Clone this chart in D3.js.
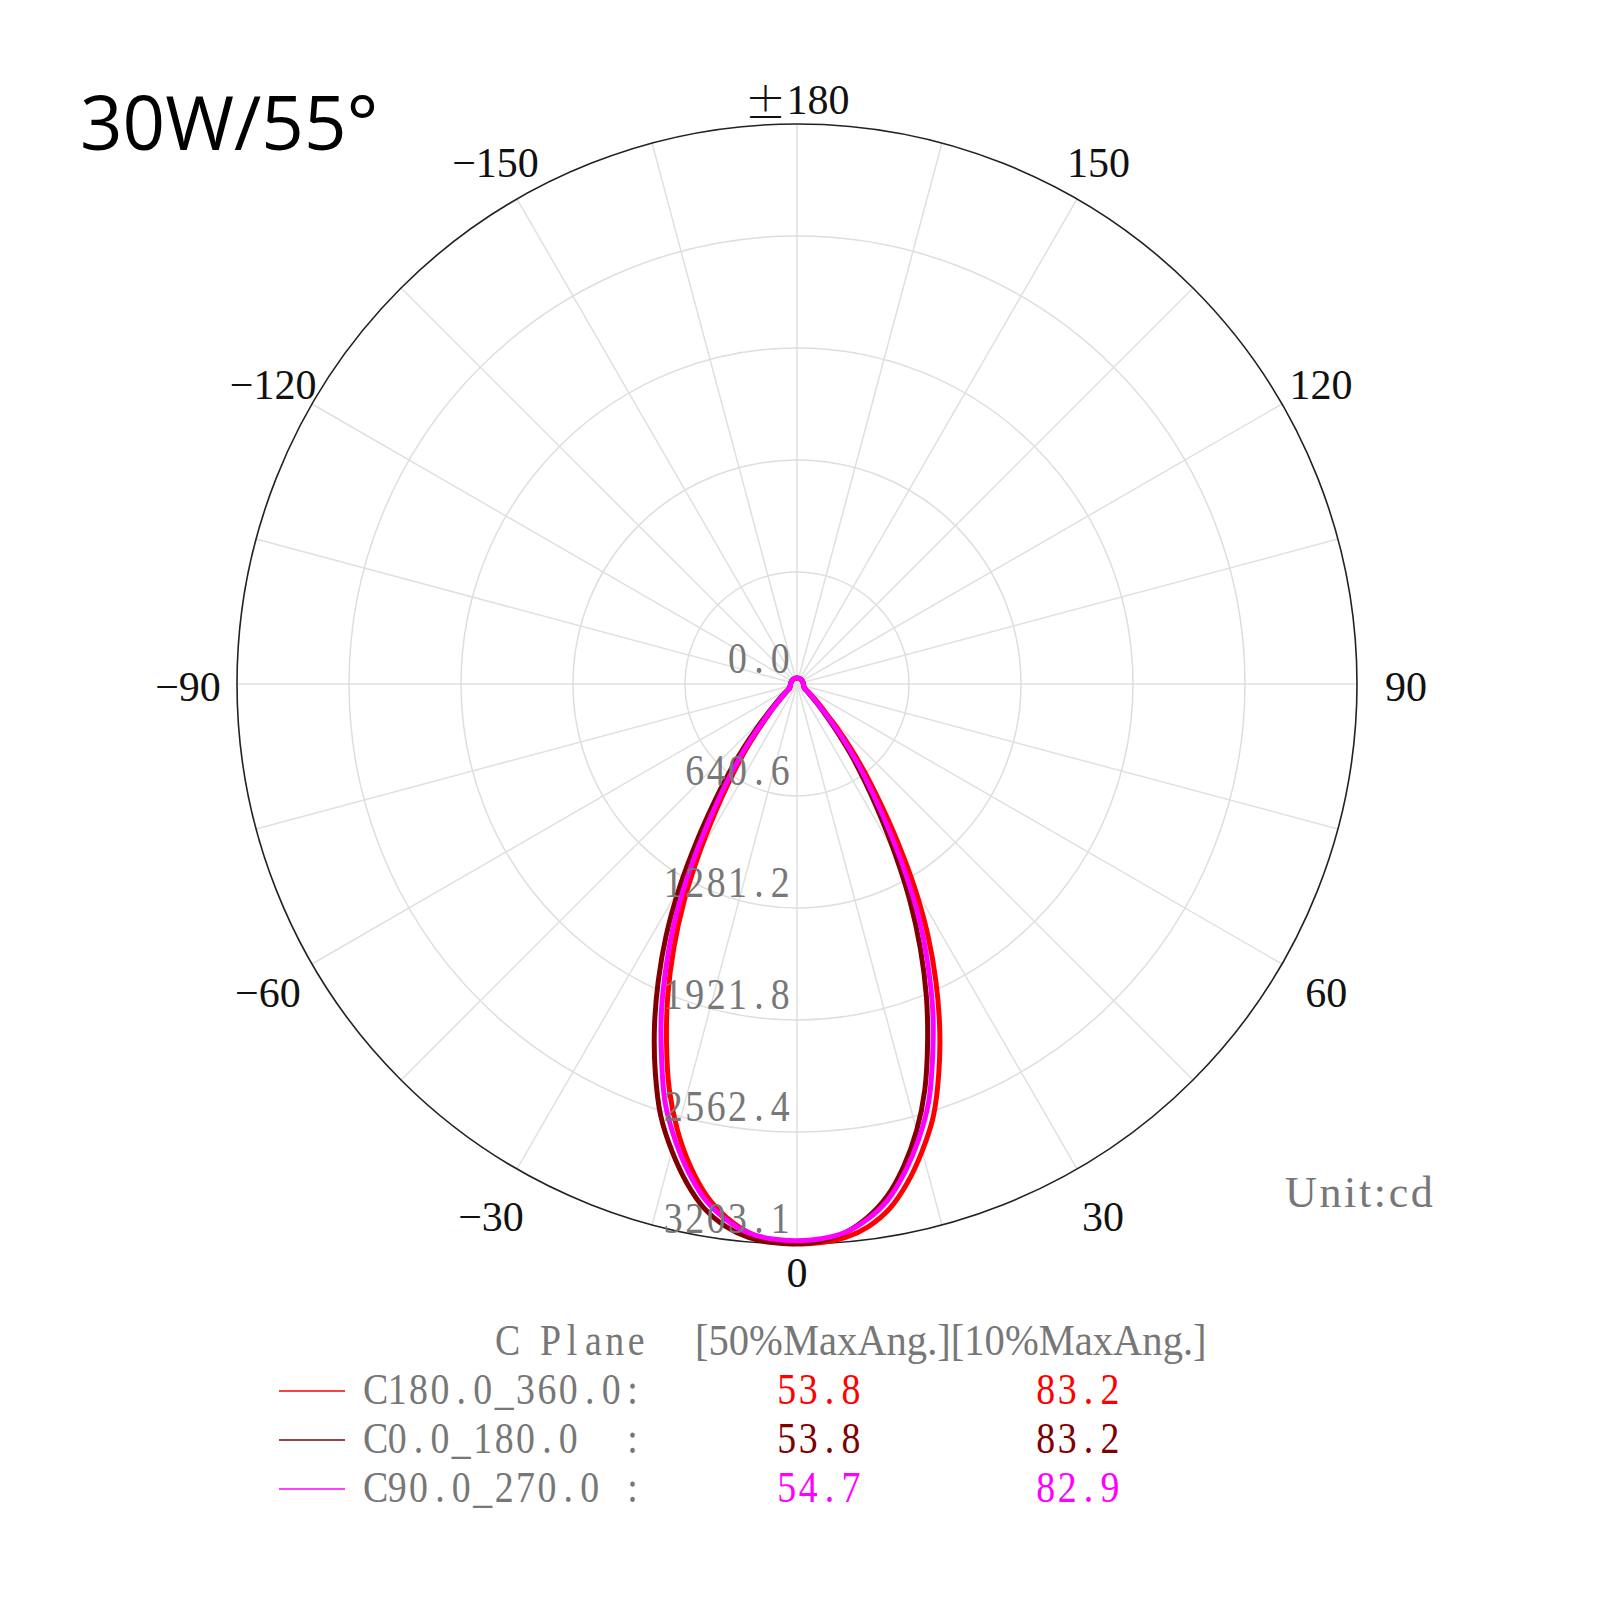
<!DOCTYPE html>
<html><head><meta charset="utf-8">
<script src="https://cdn.jsdelivr.net/npm/d3@7"></script>
<style>body{margin:0;background:#fff}svg{display:block}</style>
</head><body>
<svg id="chart" width="1600" height="1600"></svg>
<script>
// ---------------- data ----------------
const titleText = "30W/55°";
const unitText = "Unit:cd";
const maxValue = 3203.1;
const ringValues = [0, 640.6, 1281.2, 1921.8, 2562.4, 3203.1];
const ringLabels = ["0.0", "640.6", "1281.2", "1921.8", "2562.4", "3203.1"];
const angleTicks = [0, 30, 60, 90, 120, 150, 180, -150, -120, -90, -60, -30];
const angleTickLabels = ["0", "30", "60", "90", "120", "150", "±180", "−150", "−120", "−90", "−60", "−30"];
const gammaDeg = [0,2.5,5,7.5,10,12.5,15,17.5,20,22.5,25,27.5,30,32.5,35,37.5,40,42.5,45,50,55,60,70,80,90,100,120,140,160,180];

// C180.0_360.0 (red)
const redLeft  = [3202,3188,3150,3078,2973,2823,2642,2430,2182,1932,1668,1397,1119,871,666,501,356,248,182,100,66,48,41,38,36,35,35,35,35,35];
const redRight = [3202,3198,3178,3130,3048,2921,2766,2593,2371,2133,1881,1622,1346,1071,830,636,470,332,232,129,78,54,44,39,37,36,35,35,35,35];
// C0.0_180.0 (dark red)
const darkLeft  = [3202,3198,3177,3129,3047,2920,2765,2591,2369,2131,1879,1620,1344,1069,829,635,469,331,231,128,78,54,44,39,37,36,35,35,35,35];
const darkRight = [3202,3189,3151,3079,2974,2824,2644,2432,2184,1934,1670,1399,1121,873,667,502,357,249,183,101,66,48,41,38,36,35,35,35,35,35];
// C90.0_270.0 (magenta)
const magLeft  = [3185,3178,3152,3092,3000,2862,2697,2509,2266,2026,1766,1505,1222,955,735,559,406,278,199,110,70,50,42,38,36,35,35,35,35,35];
const magRight = [3185,3176,3149,3088,2996,2857,2693,2505,2268,2030,1772,1511,1227,959,737,561,408,280,200,111,70,50,42,38,36,35,35,35,35,35];

const seriesNames = ["C180.0_360.0:", "C0.0_180.0  :", "C90.0_270.0 :"];
const seriesColors = ["#ff0000", "#800000", "#ff00ff"];
const half50 = ["53.8", "53.8", "54.7"];
const half10 = ["83.2", "83.2", "82.9"];
const legendHeader = ["C Plane", "[50%MaxAng.][10%MaxAng.]"];
const seriesData = [[redLeft, redRight], [darkLeft, darkRight], [magLeft, magRight]];

// ---------------- layout ----------------
const cx = 797, cy = 684, R = 560;
const svg = d3.select("#chart");
const r = d3.scaleLinear().domain([0, maxValue]).range([0, R]);
const toRad = d => d * Math.PI / 180;
const serif = "'Liberation Serif', 'Times New Roman', serif";
const pitch = 21.4, gridSize = 44, gridScale = 0.86;
const grey = "#777";

// monospace-grid text (SimSun-like): one text element, each glyph centred in a fixed cell
function gridText(x0, y, str, color, anchor) {
  const chars = Array.from(str);
  const start = anchor === "end" ? x0 - chars.length * pitch : x0;
  const xs = chars.map((c, i) => ((i + 0.5) * pitch / gridScale).toFixed(2));
  return svg.append("text")
    .attr("transform", `translate(${start},${y}) scale(${gridScale},1)`)
    .attr("x", xs.join(" ")).attr("y", 0)
    .attr("font-family", serif)
    .attr("font-size", gridSize)
    .attr("fill", color)
    .attr("text-anchor", "middle")
    .style("white-space", "pre")
    .text(str);
}
// fitted text: proportional glyphs fitted to the monospace width
function fitText(x0, y, str, color, adjust) {
  return svg.append("text")
    .attr("x", x0 + 1).attr("y", y)
    .attr("font-family", serif)
    .attr("font-size", gridSize)
    .attr("fill", color)
    .attr("textLength", Array.from(str).length * pitch - 2)
    .attr("lengthAdjust", adjust)
    .style("white-space", "pre")
    .text(str);
}

const g = svg.append("g").attr("transform", `translate(${cx},${cy})`);

// rings
g.selectAll("circle.ring").data(ringValues.slice(1, -1)).join("circle")
  .attr("class", "ring").attr("r", d => r(d))
  .attr("fill", "none").attr("stroke", "#dedede").attr("stroke-width", 1.5);

// spokes every 15°
const spokes = d3.range(0, 360, 15);
g.selectAll("line.spoke").data(spokes).join("line")
  .attr("class", "spoke")
  .attr("x1", 0).attr("y1", 0)
  .attr("x2", d => R * Math.sin(toRad(d)))
  .attr("y2", d => R * Math.cos(toRad(d)))
  .attr("stroke", "#e0e0e0").attr("stroke-width", 1.5);

// outer circle
g.append("circle").attr("r", r(maxValue))
  .attr("fill", "none").attr("stroke", "#222").attr("stroke-width", 1.6);

// angle labels
const labelR = {0: 589, 30: 612, 60: 611, 90: 609, 120: 605, 150: 603, 180: 584};
angleTicks.forEach((a, i) => {
  const rr = labelR[Math.abs(a)];
  const dy = (Math.abs(a) === 0 || Math.abs(a) === 180) ? 0 : (Math.abs(a) === 150 ? 1 : 3);
  const t = g.append("text")
    .attr("x", rr * Math.sin(toRad(a)))
    .attr("y", rr * Math.cos(toRad(a)) + dy)
    .attr("text-anchor", "middle")
    .attr("dominant-baseline", "central")
    .attr("font-family", serif)
    .attr("font-size", 42)
    .attr("fill", "#111");
  const lab = angleTickLabels[i];
  if (lab.startsWith("±")) {
    t.append("tspan").attr("font-family", "'Noto Sans CJK SC', " + serif).attr("font-weight", 300).text("±");
    t.append("tspan").text(lab.slice(1));
  } else {
    t.text(lab);
  }
});

// radial labels
ringValues.forEach((v, i) => {
  gridText(cx - 6, cy + r(v) - 11, ringLabels[i], grey, "end");
});

// curves
const line = d3.lineRadial()
  .angle(d => Math.PI - toRad(d.a))
  .radius(d => r(d.v))
  .curve(d3.curveCatmullRomClosed);

seriesData.forEach((s, k) => {
  const [left, right] = s;
  const pts = [];
  for (let i = gammaDeg.length - 1; i >= 1; i--) pts.push({a: -gammaDeg[i], v: left[i]});
  pts.push({a: 0, v: (left[0] + right[0]) / 2});
  for (let i = 1; i < gammaDeg.length - 1; i++) pts.push({a: gammaDeg[i], v: right[i]});
  g.append("path").attr("d", line(pts))
    .attr("fill", "none").attr("stroke", seriesColors[k])
    .attr("stroke-width", 5).attr("stroke-linejoin", "round");
});

// title
svg.append("text").attr("x", 80).attr("y", 150)
  .attr("font-family", "'Open Sans', 'Noto Sans', sans-serif")
  .attr("font-size", 74.5).attr("fill", "#000").text(titleText);

// unit
fitText(1284, 1207, unitText, grey, "spacing");

// legend
gridText(497, 1355, legendHeader[0], grey);
fitText(694, 1355, legendHeader[1], grey, "spacingAndGlyphs");
const rowY = [1404, 1453, 1502];
seriesNames.forEach((nm, i) => {
  svg.append("line").attr("x1", 279).attr("x2", 345)
    .attr("y1", rowY[i] - 13).attr("y2", rowY[i] - 13)
    .attr("stroke", seriesColors[i]).attr("stroke-width", 1.5);
  gridText(365, rowY[i], nm, grey);
  gridText(776, rowY[i], half50[i], seriesColors[i]);
  gridText(1035, rowY[i], half10[i], seriesColors[i]);
});
</script>
</body></html>
